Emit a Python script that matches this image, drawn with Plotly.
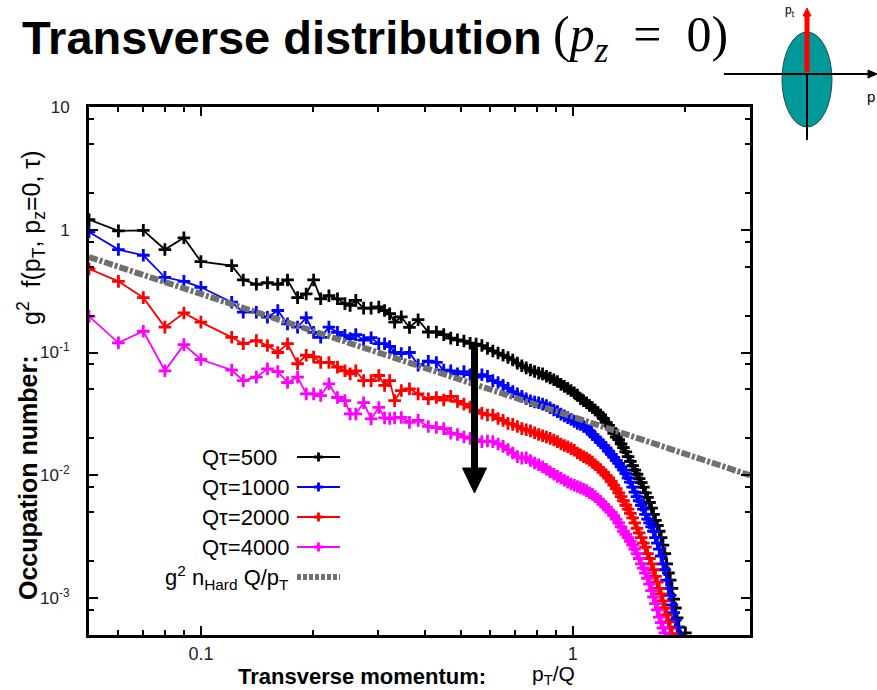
import math
import plotly.graph_objects as go

# ---------------- data ----------------
x_pt = [0.050, 0.060, 0.070, 0.080, 0.090, 0.100, 0.121, 0.130, 0.141, 0.151,
        0.161, 0.171, 0.182, 0.192, 0.201, 0.210, 0.221, 0.233, 0.244, 0.252,
        0.261, 0.274, 0.287, 0.301, 0.312, 0.322, 0.332, 0.346, 0.364, 0.384,
        0.409,
        0.43, 0.45, 0.47, 0.49, 0.51, 0.53, 0.55, 0.57, 0.59, 0.61,
        0.63, 0.65, 0.67, 0.69, 0.71, 0.73, 0.75, 0.77, 0.79, 0.81,
        0.83, 0.85, 0.87, 0.89, 0.91, 0.93, 0.95, 0.97, 0.99, 1.01,
        1.03, 1.05, 1.07, 1.09, 1.11, 1.13, 1.15, 1.17, 1.19, 1.21,
        1.23, 1.25, 1.27, 1.29, 1.31, 1.33, 1.35, 1.37, 1.39, 1.41,
        1.43, 1.45, 1.47, 1.49, 1.51, 1.53, 1.55, 1.57, 1.59, 1.61,
        1.63, 1.65, 1.67, 1.69, 1.71, 1.73, 1.75, 1.77, 1.79, 1.81,
        1.83, 1.85, 1.87, 1.89, 1.91, 1.93, 1.95, 1.97, 1.99, 2.01]

f_qt500 = [1.21, 0.98, 0.99, 0.69, 0.86, 0.55, 0.51, 0.39, 0.36, 0.37,
           0.36, 0.39, 0.28, 0.30, 0.39, 0.274, 0.29, 0.274, 0.25, 0.242,
           0.266, 0.23, 0.23, 0.235, 0.22, 0.207, 0.177, 0.195, 0.16, 0.185,
           0.147,
           0.147, 0.140, 0.131, 0.127, 0.124, 0.119, 0.117, 0.114, 0.108, 0.103,
           0.099, 0.095, 0.091, 0.087, 0.082, 0.078, 0.075, 0.072, 0.070, 0.068,
           0.067, 0.064, 0.062, 0.060, 0.058, 0.055, 0.053, 0.051, 0.049, 0.047,
           0.045, 0.042, 0.0405, 0.039, 0.037, 0.0355, 0.034, 0.0325, 0.031, 0.029,
           0.027, 0.0255, 0.024, 0.022, 0.0205, 0.0195, 0.018, 0.0168, 0.0155, 0.0142,
           0.013, 0.012, 0.011, 0.0102, 0.0094, 0.0087, 0.0080, 0.0072, 0.0066, 0.0060,
           0.0054, 0.0048, 0.0043, 0.0039, 0.0035, 0.0031, 0.0027, 0.0023, 0.0019, 0.0016,
           0.0014, 0.0012, 0.00098, 0.00083, 0.00069, 0.00058, 0.00049, 0.00044, 0.00042, 0.00052]

f_qt1000 = [0.96, 0.69, 0.62, 0.41, 0.38, 0.34, 0.257, 0.213, 0.213, 0.194,
            0.22, 0.171, 0.161, 0.192, 0.146, 0.133, 0.161, 0.146, 0.138, 0.13,
            0.14, 0.126, 0.132, 0.118, 0.118, 0.112, 0.10, 0.098, 0.10, 0.079,
            0.085,
            0.083, 0.072, 0.071, 0.067, 0.070, 0.066, 0.063, 0.066, 0.064, 0.059,
            0.057, 0.054, 0.051, 0.048, 0.046, 0.044, 0.042, 0.0405, 0.0395, 0.039,
            0.038, 0.037, 0.0355, 0.034, 0.033, 0.0315, 0.0305, 0.0295, 0.0285, 0.0275,
            0.0265, 0.026, 0.025, 0.0245, 0.023, 0.0215, 0.0205, 0.0195, 0.0185, 0.0175,
            0.0167, 0.0157, 0.0148, 0.014, 0.0132, 0.0125, 0.0117, 0.011, 0.0103, 0.0095,
            0.0088, 0.0080, 0.0073, 0.0067, 0.0062, 0.0057, 0.0053, 0.0048, 0.0044, 0.0041,
            0.0038, 0.0035, 0.0031, 0.0028, 0.0025, 0.0022, 0.0019, 0.0017, 0.0014, 0.0012,
            0.00105, 0.00088, 0.00076, 0.00066, 0.00058, 0.00051, 0.00045]

f_qt2000 = [0.48, 0.38, 0.28, 0.161, 0.21, 0.177, 0.133, 0.118, 0.125, 0.114,
            0.10, 0.118, 0.081, 0.095, 0.092, 0.083, 0.083, 0.076, 0.071, 0.067,
            0.071, 0.059, 0.059, 0.065, 0.054, 0.059, 0.0406, 0.049, 0.0506, 0.046,
            0.042,
            0.043, 0.041, 0.044, 0.040, 0.038, 0.036, 0.034, 0.032, 0.031, 0.031,
            0.029, 0.028, 0.0265, 0.026, 0.025, 0.024, 0.0235, 0.023, 0.0222, 0.0215,
            0.021, 0.0205, 0.020, 0.0194, 0.0188, 0.018, 0.0175, 0.0171, 0.0165, 0.016,
            0.0152, 0.0147, 0.0142, 0.0138, 0.0133, 0.0128, 0.0122, 0.0116, 0.0111, 0.0106,
            0.0100, 0.0095, 0.0089, 0.0083, 0.0078, 0.0072, 0.0067, 0.0062, 0.0057, 0.0053,
            0.0049, 0.0045, 0.0041, 0.0037, 0.0034, 0.0031, 0.0028, 0.0026, 0.0023, 0.0021,
            0.0019, 0.0017, 0.0015, 0.00135, 0.0012, 0.00108, 0.00095, 0.00083, 0.00073, 0.00064,
            0.00057, 0.00051, 0.00045]

f_qt4000 = [0.197, 0.12, 0.149, 0.071, 0.116, 0.0877, 0.072, 0.059, 0.063, 0.0736,
            0.070, 0.057, 0.063, 0.046, 0.046, 0.0446, 0.0555, 0.043, 0.0406, 0.0316,
            0.0316, 0.039, 0.0288, 0.0357, 0.0293, 0.029, 0.0293, 0.0296, 0.027, 0.028,
            0.025,
            0.0245, 0.024, 0.022, 0.0215, 0.0205, 0.020, 0.0195, 0.0188, 0.019, 0.0188,
            0.018, 0.0172, 0.0162, 0.0152, 0.0142, 0.0138, 0.0139, 0.0132, 0.0126, 0.0122,
            0.0117, 0.0112, 0.0107, 0.0102, 0.0098, 0.0095, 0.0091, 0.0088, 0.0085, 0.0083,
            0.0081, 0.0079, 0.0077, 0.0075, 0.0072, 0.0070, 0.0067, 0.0064, 0.0061, 0.0058,
            0.0055, 0.0052, 0.0050, 0.0047, 0.0044, 0.0041, 0.0038, 0.0035, 0.0033, 0.0031,
            0.0029, 0.0027, 0.0025, 0.0023, 0.0021, 0.0019, 0.00175, 0.0016, 0.00145, 0.0013,
            0.00115, 0.00102, 0.0009, 0.0008, 0.0007, 0.00063, 0.00057, 0.00052, 0.00047]

hard_x = [0.05, 3.0]
hard_y = [0.60, 0.010]

series_names = ["Qτ=500", "Qτ=1000", "Qτ=2000", "Qτ=4000"]
series_values = [f_qt500, f_qt1000, f_qt2000, f_qt4000]
series_colors = ["#000000", "#0000ff", "#ff0000", "#ff00ff"]
hard_name = "g<sup>2</sup> n<sub>Hard</sub> Q/p<sub>T</sub>"
hard_color = "#707070"

x_range = [0.05, 3.0]
y_range = [5e-4, 10.0]
x_major = [0.1, 1]
x_major_text = ["0.1", "1"]
x_minor = [0.06, 0.07, 0.08, 0.09, 0.2, 0.3, 0.4, 0.5, 0.6, 0.7, 0.8, 0.9, 2]
y_major = [0.001, 0.01, 0.1, 1, 10]
y_major_text = ["10<sup>-3</sup>", "10<sup>-2</sup>", "10<sup>-1</sup>", "1", "10"]
y_minor = [8e-4, 2e-3, 5e-3, 8e-3, 2e-2, 5e-2, 8e-2, 0.2, 0.5, 0.8, 2, 5, 8]

# ---------------- layout geometry (pixels) ----------------
W, H = 877, 690
L, R, T, B = 89, 750, 107, 635
FONT = "Liberation Sans, Arial, sans-serif"


def px(x):
    return (x - L) / (R - L)


def py(y):
    return (B - y) / (B - T)


fig = go.Figure()

for name, ys, col in zip(series_names, series_values, series_colors):
    fig.add_trace(go.Scatter(
        x=x_pt[:len(ys)], y=ys, name=name, mode="lines+markers",
        line=dict(color=col, width=1.8),
        marker=dict(symbol="cross-thin", size=9, line=dict(color=col, width=2.8)),
        showlegend=False))

fig.add_trace(go.Scatter(
    x=hard_x, y=hard_y, mode="lines", name="hard",
    line=dict(color=hard_color, width=6, dash="9px,2px,3px,2px"),
    showlegend=False))

# invisible trace that carries the mirrored (top / right) tick axes
fig.add_trace(go.Scatter(
    x=hard_x, y=hard_y, xaxis="x2", yaxis="y2", mode="lines",
    line=dict(width=0), opacity=0, hoverinfo="skip", showlegend=False))

shapes = []
annotations = []

# ---- custom key (text left, sample on the right, like gnuplot) ----
rows = [457, 487, 517, 547, 577]
for i, (name, col) in enumerate(zip(series_names, series_colors)):
    yy = rows[i]
    annotations.append(dict(x=px(200), y=py(yy), xref="paper", yref="paper",
                            text=name, showarrow=False, xanchor="left", yanchor="middle",
                            font=dict(family=FONT, size=22, color="black")))
    shapes.append(dict(type="line", xref="paper", yref="paper",
                       x0=px(297), x1=px(340), y0=py(yy), y1=py(yy),
                       line=dict(color=col, width=1.8)))
    shapes.append(dict(type="path", xref="paper", yref="paper",
                       path=f"M {px(314)},{py(yy)} L {px(323)},{py(yy)} "
                            f"M {px(318.5)},{py(yy-4.5)} L {px(318.5)},{py(yy+4.5)}",
                       line=dict(color=col, width=2.8)))
annotations.append(dict(x=px(291), y=py(rows[4]), xref="paper", yref="paper",
                        text=hard_name, showarrow=False, xanchor="right", yanchor="middle",
                        font=dict(family=FONT, size=22, color="black")))
shapes.append(dict(type="line", xref="paper", yref="paper",
                   x0=px(297), x1=px(340), y0=py(rows[4]), y1=py(rows[4]),
                   line=dict(color=hard_color, width=6, dash="4px,2px")))

# ---- big downward arrow inside plot ----
shapes.append(dict(type="line", xref="paper", yref="paper",
                   x0=px(474.5), x1=px(474.5), y0=py(343), y1=py(472),
                   line=dict(color="black", width=7)))
shapes.append(dict(type="path", xref="paper", yref="paper",
                   path=f"M {px(462.5)},{py(468)} L {px(486.5)},{py(468)} L {px(474.5)},{py(493)} Z",
                   fillcolor="black", line=dict(color="black", width=1)))

# ---- inset sketch (top right) ----
shapes.append(dict(type="circle", xref="paper", yref="paper",
                   x0=px(782), x1=px(832), y0=py(127), y1=py(32),
                   fillcolor="#009898", line=dict(color="#1d4f4f", width=1)))
shapes.append(dict(type="line", xref="paper", yref="paper",
                   x0=px(724), x1=px(871), y0=py(74), y1=py(74),
                   line=dict(color="black", width=2)))
shapes.append(dict(type="path", xref="paper", yref="paper",
                   path=f"M {px(877)},{py(74)} L {px(868)},{py(70)} L {px(868)},{py(78)} Z",
                   fillcolor="black", line=dict(color="black", width=1)))
shapes.append(dict(type="line", xref="paper", yref="paper",
                   x0=px(807), x1=px(807), y0=py(74), y1=py(140),
                   line=dict(color="black", width=2)))
shapes.append(dict(type="line", xref="paper", yref="paper",
                   x0=px(807), x1=px(807), y0=py(72), y1=py(15),
                   line=dict(color="#ff0000", width=5)))
shapes.append(dict(type="path", xref="paper", yref="paper",
                   path=f"M {px(807)},{py(8)} L {px(803)},{py(16)} L {px(811)},{py(16)} Z",
                   fillcolor="#ff0000", line=dict(color="#ff0000", width=1)))
annotations.append(dict(x=px(783), y=py(11), xref="paper", yref="paper",
                        text="p<sub>t</sub>", showarrow=False, xanchor="left", yanchor="middle",
                        font=dict(family=FONT, size=12, color="black")))
annotations.append(dict(x=px(865), y=py(97), xref="paper", yref="paper",
                        text="p", showarrow=False, xanchor="left", yanchor="middle",
                        font=dict(family=FONT, size=15, color="black")))

# ---- slide title ----
annotations.append(dict(x=px(20), y=py(37), xref="paper", yref="paper",
                        text="<b>Transverse distribution</b>", showarrow=False,
                        xanchor="left", yanchor="middle",
                        font=dict(family=FONT, size=47, color="black")))
annotations.append(dict(x=px(551), y=py(38), xref="paper", yref="paper",
                        text="(<i>p</i><sub><i>z</i></sub>  =  0)", showarrow=False,
                        xanchor="left", yanchor="middle",
                        font=dict(family="Liberation Serif, DejaVu Serif, serif", size=50, color="black")))

# ---- axis titles ----
annotations.append(dict(x=px(28), y=py(478), xref="paper", yref="paper",
                        text="<b>Occupation number:</b>", showarrow=False, textangle=-90,
                        xanchor="center", yanchor="middle",
                        font=dict(family=FONT, size=25, color="black")))
annotations.append(dict(x=px(31), y=py(238), xref="paper", yref="paper",
                        text="g<sup>2</sup>  f(p<sub>T</sub>, p<sub>z</sub>=0, τ)", showarrow=False,
                        textangle=-90, xanchor="center", yanchor="middle",
                        font=dict(family=FONT, size=25, color="black")))
annotations.append(dict(x=px(362), y=py(676), xref="paper", yref="paper",
                        text="<b>Transverse momentum:</b>", showarrow=False,
                        xanchor="center", yanchor="middle",
                        font=dict(family=FONT, size=22, color="black")))
annotations.append(dict(x=px(553), y=py(675), xref="paper", yref="paper",
                        text="p<sub>T</sub>/Q", showarrow=False,
                        xanchor="center", yanchor="middle",
                        font=dict(family=FONT, size=21, color="black")))

fig.update_layout(
    width=W, height=H, autosize=False,
    margin=dict(l=L, r=W - R, t=T, b=H - B, pad=0),
    paper_bgcolor="white", plot_bgcolor="white",
    shapes=shapes, annotations=annotations,
    showlegend=False,
)

xr = [math.log10(x_range[0]), math.log10(x_range[1])]
yr = [math.log10(y_range[0]), math.log10(y_range[1])]
tick_common = dict(ticks="inside", ticklen=9, tickwidth=2, tickcolor="black",
                   showgrid=False, zeroline=False)

fig.update_layout(
    xaxis=dict(type="log", range=xr, tickmode="array", tickvals=x_major, ticktext=x_major_text,
               showline=True, linewidth=3, linecolor="black", mirror=True,
               ticklabelstandoff=0,
               tickfont=dict(family=FONT, size=18, color="#222222"),
               minor=dict(tickmode="array", tickvals=x_minor, ticks="inside", ticklen=5,
                          tickwidth=2, tickcolor="black", showgrid=False),
               **tick_common),
    yaxis=dict(type="log", range=yr, tickmode="array", tickvals=y_major, ticktext=y_major_text,
               showline=True, linewidth=3, linecolor="black", mirror=True,
               ticklabelstandoff=13,
               tickfont=dict(family=FONT, size=17, color="#222222"),
               minor=dict(tickmode="array", tickvals=y_minor, ticks="inside", ticklen=5,
                          tickwidth=2, tickcolor="black", showgrid=False),
               **tick_common),
    xaxis2=dict(type="log", range=xr, overlaying="x", side="top", anchor="y",
                tickmode="array", tickvals=x_major, showticklabels=False, showline=False,
                minor=dict(tickmode="array", tickvals=x_minor, ticks="inside", ticklen=5,
                           tickwidth=2, tickcolor="black", showgrid=False),
                **tick_common),
    yaxis2=dict(type="log", range=yr, overlaying="y", side="right", anchor="x",
                tickmode="array", tickvals=y_major, showticklabels=False, showline=False,
                minor=dict(tickmode="array", tickvals=y_minor, ticks="inside", ticklen=5,
                           tickwidth=2, tickcolor="black", showgrid=False),
                **tick_common),
)

fig.write_html("out.html",
               config={"displayModeBar": False},
               post_script="document.body.style.margin='0px';document.body.style.overflow='hidden';")
